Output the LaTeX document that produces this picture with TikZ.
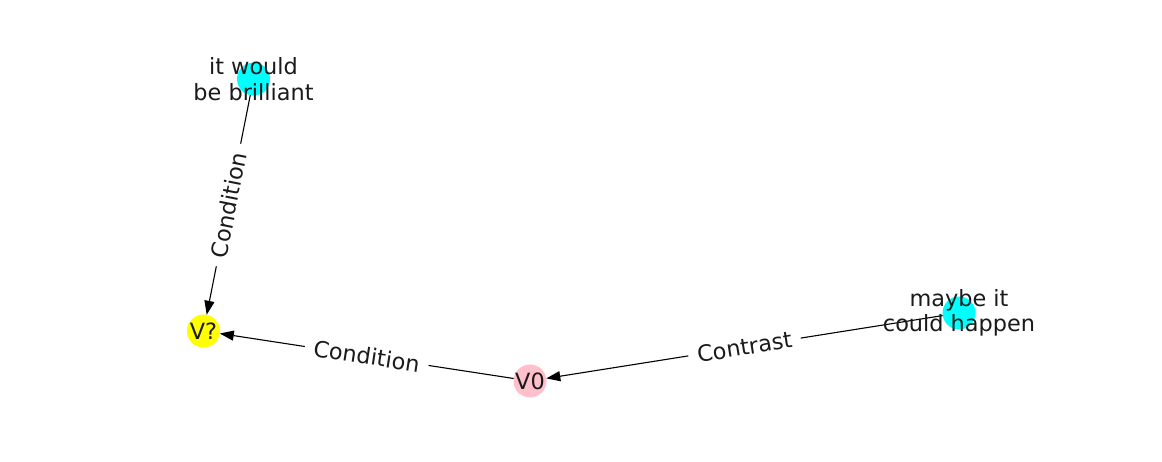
\documentclass[tikz,border=0pt]{standalone}
\usepackage{fontspec}
\setmainfont{DejaVu Sans}
\usetikzlibrary{arrows.meta}
\definecolor{nodecyan}{HTML}{00FFFF}
\definecolor{nodeyellow}{HTML}{FFFF00}
\definecolor{nodepink}{HTML}{FFC0CB}
\definecolor{txt}{HTML}{1A1A1A}
\begin{document}
\begin{tikzpicture}[x=1pt,y=1pt,
  dot/.style={circle, draw=none, minimum size=33pt, inner sep=0pt, outer sep=0pt},
  lbl/.style={text=txt, font=\fontsize{22.4}{25.5}\selectfont, align=center, inner sep=0pt},
  edge/.style={draw=black, line width=1.1pt, -{Triangle[length=14pt,width=10pt]}},
  elbl/.style={text=txt, fill=white, font=\fontsize{22.4}{25.5}\selectfont, inner xsep=9pt, inner ysep=2pt, sloped, midway}
]
\useasboundingbox (0,0) rectangle (1162,462);
\node[dot, fill=nodecyan] (b) at (253.5,383) {};
\node[dot, fill=nodeyellow] (q) at (203.5,131) {};
\node[dot, fill=nodepink] (z) at (530,81) {};
\node[dot, fill=nodecyan] (m) at (959,149) {};

\draw[edge] (b) -- node[elbl] {Condition} (q);
\draw[edge] (z) -- node[elbl] {Condition} (q);
\draw[edge] (m) -- node[elbl] {Contrast} (z);

\node[lbl] (bt) at (b) {it would\\be brilliant};
\node[lbl] (qt) at (q) {V?};
\node[lbl] (zt) at (z) {V0};
\node[lbl] (mt) at (m) {maybe it\\could happen};
\end{tikzpicture}
\end{document}
